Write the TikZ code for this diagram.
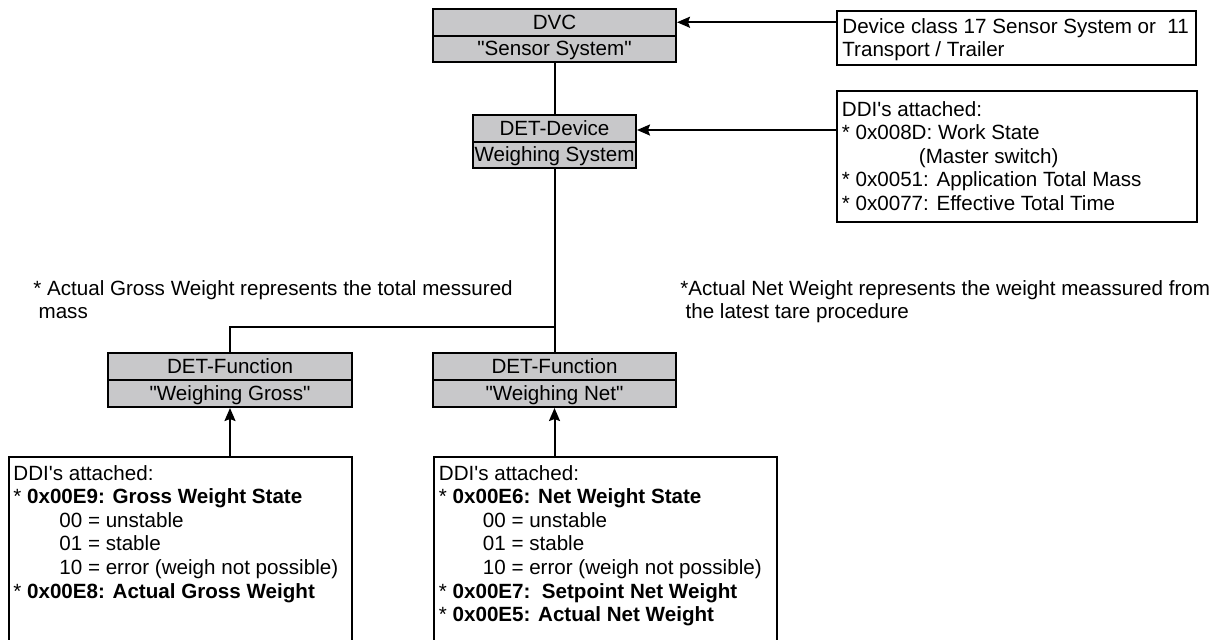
\documentclass[tikz,border=0pt]{standalone}
\usepackage{fontspec}
\setmainfont{Liberation Sans}[Ligatures=TeXOff]
\usetikzlibrary{arrows.meta}
\definecolor{boxgray}{RGB}{200,200,202}
\newcommand{\mfont}{\fontsize{10.3pt}{11.8pt}\selectfont}
\tikzset{
  part/.style={draw, fill=boxgray, line width=1pt, inner sep=0pt, minimum height=13.25pt,
    text height=7.2pt, text depth=0pt, font=\mfont},
  frame/.style={draw, line width=1pt, inner sep=0pt},
  txt/.style={anchor=base west, inner sep=0pt, font=\mfont},
  conn/.style={line width=1pt},
  arr/.style={conn, -{Stealth[length=6.5pt,width=5.5pt,inset=1pt]}},
}
\begin{document}
\begin{tikzpicture}[x=0.5pt,y=-0.5pt]
\useasboundingbox (0,0) rectangle (1212,639);
% header boxes
\node[part, minimum width=121.5pt] (dvctop) at (554.5,22.25) {DVC};
\node[part, minimum width=121.5pt] (dvcbot) at (554.5,48.75) {"Sensor System"};
\node[part, minimum width=81.5pt] (detop) at (554.5,128.25) {DET-Device};
\node[part, minimum width=81.5pt] (debot) at (554.5,154.75) {Weighing System};
\node[part, minimum width=122pt, minimum height=13.5pt] (grtop) at (230,366.5) {DET-Function};
\node[part, minimum width=122pt, minimum height=13.5pt] (grbot) at (230,393.5) {"Weighing Gross"};
\node[part, minimum width=121.5pt, minimum height=13.5pt] (nttop) at (554.5,366.5) {DET-Function};
\node[part, minimum width=121.5pt, minimum height=13.5pt] (ntbot) at (554.5,393.5) {"Weighing Net"};
% description boxes
\node[frame, minimum width=179.5pt, minimum height=27pt] (devbox) at (1016.5,38) {};
\node[frame, minimum width=180pt, minimum height=65.5pt] (ddi1) at (1017,156.5) {};
\node[frame, minimum width=171.5pt, minimum height=96.5pt] (ddig) at (180.5,553.5) {};
\node[frame, minimum width=171.5pt, minimum height=96.5pt] (ddin) at (605.5,553.5) {};
% texts
\node[txt] (devtxt) at (842,33) {\parbox[t]{200pt}{Device class 17 Sensor System or\ \ 11\\{}Transport / Trailer}};
\node[txt] (ddi1txt) at (841.5,116) {\parbox[t]{200pt}{DDI's attached:\\{}%
* 0x008D: Work State\\{}%
\hspace*{38.5pt}(Master switch)\\{}%
* 0x0051: Application Total Mass\\{}%
* 0x0077: Effective Total Time}};
\node[txt] (grnote) at (33,295) {\parbox[t]{300pt}{* Actual Gross Weight represents the total messured\\{}\hspace*{2.6pt}mass}};
\node[txt] (ntnote) at (680,295) {\parbox[t]{300pt}{*Actual Net Weight represents the weight meassured from\\{}\hspace*{2.6pt}the latest tare procedure}};
\node[txt] (ddigtxt) at (13,480) {\parbox[t]{200pt}{DDI's attached:\\{}%
* \textbf{0x00E9: Gross Weight State}\\{}%
\hspace*{23pt}00 = unstable\\{}%
\hspace*{23pt}01 = stable\\{}%
\hspace*{23pt}10 = error (weigh not possible)\\{}%
* \textbf{0x00E8: Actual Gross Weight}}};
\node[txt] (ddintxt) at (438.5,480) {\parbox[t]{200pt}{DDI's attached:\\{}%
* \textbf{0x00E6: Net Weight State}\\{}%
\hspace*{22pt}00 = unstable\\{}%
\hspace*{22pt}01 = stable\\{}%
\hspace*{22pt}10 = error (weigh not possible)\\{}%
* \textbf{0x00E7:\ \ Setpoint Net Weight}\\{}%
* \textbf{0x00E5: Actual Net Weight}}};
% connectors
\coordinate (j) at (554.5,327);
\draw[conn] (dvcbot.south) -- (detop.north);
\draw[conn] (debot.south) -- (nttop.north);
\draw[conn] (j) -| (grtop.north);
\draw[arr] (devbox.west |- dvctop.east) -- (dvctop.east);
\draw[arr] (ddi1.west |- 0,130) -- (detop.east |- 0,130);
\draw[arr] (grbot.south |- ddig.north) -- (grbot.south);
\draw[arr] (ntbot.south |- ddin.north) -- (ntbot.south);
\end{tikzpicture}
\end{document}
